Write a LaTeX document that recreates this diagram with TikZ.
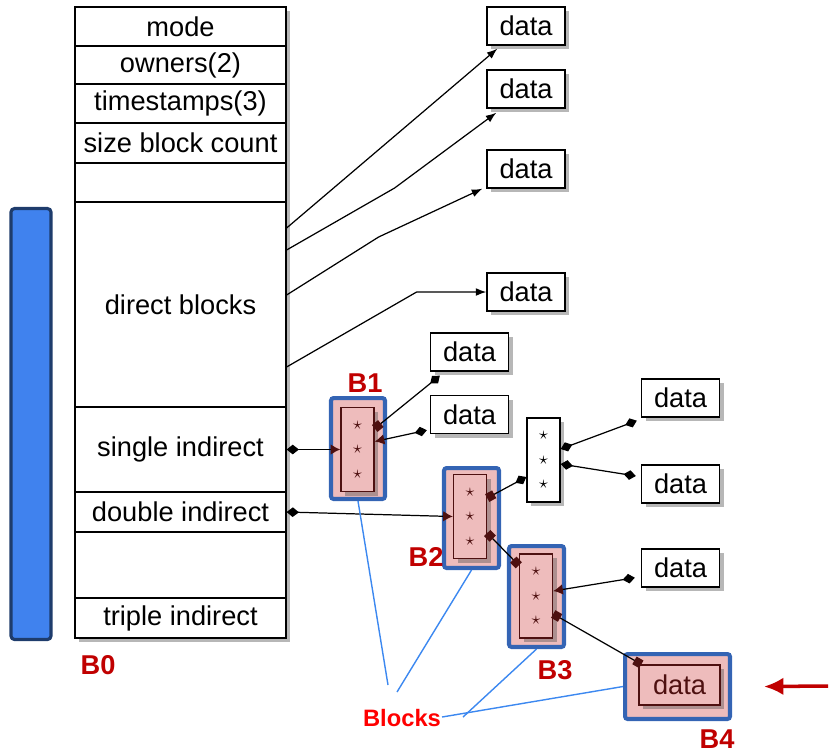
\documentclass[tikz,border=0pt]{standalone}
\usepackage{fontspec}
\setmainfont{Liberation Sans}
\usetikzlibrary{calc,arrows.meta,shadows}

\definecolor{blkred}{HTML}{C00000}
\definecolor{blkblue}{HTML}{3464B4}
\definecolor{blkpink}{HTML}{EEBCBC}
\definecolor{ptrred}{HTML}{4E1010}
\definecolor{barblue}{HTML}{4082EE}
\definecolor{bardark}{HTML}{1E3C6C}
\definecolor{lineblue}{HTML}{3C88F0}

\tikzset{
    dia/.tip={Diamond[length=7pt,width=5.5pt]},
    sq/.tip={Square[ptrred,length=4.5pt,width=5pt]},
    tri/.tip={Latex[ptrred,length=5.5pt,width=6pt]}
}

\begin{document}
\begin{tikzpicture}[
    x=0.02cm, y=-0.02cm,
    every node/.style={font=\fontsize{15.5}{18}\selectfont},
    boxshadow/.style={drop shadow={shadow xshift=2.5pt, shadow yshift=-2.5pt, opacity=0.4, fill=black!70}},
    row/.style={draw, line width=0.7pt, minimum width=4.22cm, inner sep=0pt},
    databox/.style={draw, line width=0.8pt, fill=white, minimum width=1.56cm, minimum height=0.76cm, inner sep=0pt, boxshadow},
    ptrbox/.style={draw, fill=white, line width=0.8pt, minimum width=0.66cm, minimum height=1.68cm, inner sep=0pt, align=center, font=\fontsize{10}{14}\selectfont, boxshadow},
    ptrin/.style={ptrbox, fill=blkpink, draw=ptrred, text=ptrred},
    blk/.style={draw=blkblue, line width=2.3pt, fill=blkpink, rounded corners=1.5pt, inner sep=0pt},
    blabel/.style={font=\bfseries\fontsize{15.5}{18}\selectfont, text=blkred, inner sep=0pt},
    ptrarr/.style={line width=0.7pt, -{Latex[length=6pt,width=4.5pt]}},
    link/.style={line width=0.7pt},
    note/.style={lineblue, line width=0.8pt}
]
    \useasboundingbox (0,0) rectangle (830,752);

    % --- disk bar ---
    \node[draw=bardark, fill=barblue, line width=1.8pt, rounded corners=2pt, minimum width=0.8cm, minimum height=8.62cm] (disk) at (31,424) {};

    % --- inode ---
    \node[draw, fill=white, line width=0.7pt, minimum width=4.22cm, minimum height=12.62cm, boxshadow] (inode) at (180.5,322.5) {};
    \node[row, minimum height=0.78cm] (mode) at (180.5,26.5) {mode};
    \node[row, minimum height=0.76cm] (owners) at (180.5,65) {owners(2)};
    \node[row, minimum height=0.78cm] (stamps) at (180.5,103.5) {timestamps(3)};
    \node[row, minimum height=0.8cm] (size) at (180.5,143) {size block count};
    \node[row, minimum height=0.78cm] (free1) at (180.5,182.5) {};
    \node[row, minimum height=4.1cm] (direct) at (180.5,304.5) {direct blocks};
    \node[row, minimum height=1.7cm] (single) at (180.5,449.5) {single indirect};
    \node[row, minimum height=0.8cm] (double) at (180.5,512) {double indirect};
    \node[row, minimum height=1.32cm] (free2) at (180.5,565) {};
    \node[row, minimum height=0.8cm] (triple) at (180.5,618) {triple indirect};

    % --- data blocks ---
    \node[databox] (d1) at (526,26) {data};
    \node[databox] (d2) at (526,89) {data};
    \node[databox] (d3) at (526,169) {data};
    \node[databox] (d4) at (526,292) {data};
    \node[databox] (d5) at (469.5,352) {data};
    \node[databox] (d6) at (469.5,414.5) {data};
    \node[databox] (d7) at (680.5,398) {data};
    \node[databox] (d8) at (680.5,484) {data};
    \node[databox] (d9) at (680.5,568) {data};

    % --- indirect blocks ---
    \node[blk, minimum width=1.08cm, minimum height=2.02cm] (b1) at (358,448.5) {};
    \node[ptrin] (p1) at (357.5,449.5) {$\star$\\$\star$\\$\star$};
    \node[blk, minimum width=1.1cm, minimum height=2cm] (b2) at (471.5,518) {};
    \node[ptrin] (p2) at (470,516.5) {$\star$\\$\star$\\$\star$};
    \node[blk, minimum width=1.1cm, minimum height=2.02cm] (b3) at (536.5,596.5) {};
    \node[ptrin] (p3) at (536,596) {$\star$\\$\star$\\$\star$};
    \node[blk, minimum width=2.1cm, minimum height=1.3cm] (b4) at (677.5,686.5) {};
    \node[ptrin, minimum width=1.62cm, minimum height=0.8cm, font=\fontsize{15.5}{18}\selectfont] (p4) at (679.5,685) {data};
    \node[ptrbox] (pw) at (543.5,460) {$\star$\\$\star$\\$\star$};

    % --- labels ---
    \node[blabel] (l0) at (98,665) {B0};
    \node[blabel] (l1) at (365,383) {B1};
    \node[blabel] (l2) at (426,557) {B2};
    \node[blabel] (l3) at (555,670) {B3};
    \node[blabel] (l4) at (717,739) {B4};
    \node[font=\bfseries\fontsize{13.5}{16}\selectfont, text=red] (blocks) at (402,718) {Blocks};

    % --- direct pointers ---
    \draw[ptrarr] ($(direct.east)+(0,-76.5)$) -- ($(d1.south west)+(11,3)$);
    \draw[ptrarr] ($(direct.east)+(0,-54.5)$) -- ++(108,-62) -- ($(d2.south west)+(10,4)$);
    \draw[ptrarr] ($(direct.east)+(0,-9.5)$) -- ++(92,-58) -- ($(d3.south west)+(-4,0)$);
    \draw[ptrarr] ($(direct.east)+(0,62.5)$) -- ++(130,-75) -- (d4.west);

    % --- indirect pointers ---
    \draw[link, {dia}-{tri}] (single.east) -- (p1.west);
    \draw[link, {sq}-{dia}] ($(p1.east)+(0,-21)$) -- ($(d5.south west)+(10,4)$);
    \draw[link, {tri}-{dia}] ($(p1.east)+(0,-8)$) -- ($(d6.south west)+(-3,-4)$);

    \draw[link, {dia}-{tri}] (double.east) -- (p2.west);
    \draw[link, {sq}-{dia}] ($(p2.east)+(0,-18.5)$) -- ($(pw.west)+(0,17)$);
    \draw[link, {sq}-{sq}] ($(p2.east)+(0,16.5)$) -- ($(p3.north west)+(0,12)$);
    \draw[link, {dia}-{dia}] ($(pw.east)+(0,-11)$) -- ($(d7.south west)+(-4,3)$);
    \draw[link, {dia}-{dia}] ($(pw.east)+(0,4)$) -- ($(d8.west)+(-5,-8)$);

    \draw[link, {tri}-{dia}] ($(p3.east)+(0,-5)$) -- ($(d9.south west)+(-6,-10)$);
    \draw[link, {sq}-{sq}] ($(p3.east)+(0,18)$) -- ($(p4.north west)+(3,0)$);

    % --- block callouts ---
    \draw[note] ($(blocks.center)+(-14,-33)$) -- (b1.south);
    \draw[note] ($(blocks.center)+(-5,-26)$) -- (b2.south);
    \draw[note] ($(blocks.center)+(61,-1)$) -- (b3.south);
    \draw[note] ($(blocks.center)+(40,-1)$) -- (b4.west);

    % --- current block marker ---
    \coordinate (cur) at (828,686);
    \draw[line width=2pt, blkred, -{Latex[length=11pt,width=10pt]}] (cur) -- ($(b4.east)+(32,0)$);
\end{tikzpicture}
\end{document}
